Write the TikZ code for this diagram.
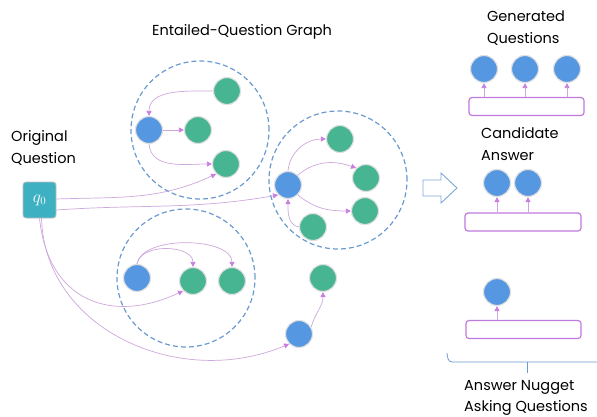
\documentclass[tikz,border=0pt]{standalone}
\usepackage{fontspec}
\setmainfont{Poppins}
\usetikzlibrary{arrows.meta}
\definecolor{qblue}{HTML}{5597E0}
\definecolor{qgreen}{HTML}{47B592}
\definecolor{edgec}{HTML}{CCA8DC}
\definecolor{tipc}{HTML}{C97EE0}
\definecolor{dashc}{HTML}{6A9AD0}
\definecolor{rectc}{HTML}{C07ADD}
\definecolor{qzero}{HTML}{3DB0C2}
\definecolor{arrc}{HTML}{7FA8D8}
\tikzset{
 bnode/.style={circle,fill=qblue,draw=black!12,line width=1.2pt,minimum size=27pt,inner sep=0pt},
 gnode/.style={bnode,fill=qgreen},
 edge/.style={draw=edgec,line width=0.7pt,-{Triangle[length=5pt,width=5pt,color=tipc]}},
 cluster/.style={circle,draw=dashc,dash pattern=on 5pt off 3pt,line width=1.2pt,inner sep=0pt,minimum size=138pt},
 txt/.style={font=\fontsize{14.5}{21.5}\selectfont,align=left,inner sep=0pt},
 slot/.style={draw=rectc,rounded corners=3pt,line width=1.2pt,minimum width=115pt,minimum height=18pt,inner sep=0pt},
 qbox/.style={fill=qzero,draw=black!25,line width=0.8pt,rounded corners=3pt,minimum width=33pt,minimum height=36pt,inner sep=0pt,text=white,font=\fontsize{16}{16}\selectfont},
}
\begin{document}
\begin{tikzpicture}[x=1pt,y=1pt]
\useasboundingbox (0,0) rectangle (597,416);
% clusters
\node[cluster] (c1) at (200,286) {};
\node[cluster] (c2) at (338,236) {};
\node[cluster] (c3) at (186,138) {};
% cluster 1
\node[bnode] (b1) at (149,286) {};
\node[gnode] (mg1) at (198,286) {};
\node[gnode] (tg1) at (227,325) {};
\node[gnode] (bg1) at (226,252) {};
% cluster 2
\node[bnode] (b2) at (288,231) {};
\node[gnode] (tg2) at (340,277) {};
\node[gnode] (mg2) at (366,238) {};
\node[gnode] (lg2) at (365,205) {};
\node[gnode] (bt2) at (313,189) {};
% cluster 3
\node[bnode] (b3) at (137,138) {};
\node[gnode] (gm3) at (193,135) {};
\node[gnode] (gr3) at (232,135) {};
% outside
\node[gnode] (go) at (323,138) {};
\node[bnode] (bo) at (299,82) {};
% q0
\node[qbox] (q0) at (39.5,216) {$q_0$};
% texts
\node[txt,anchor=center] (title) at (242,384) {Entailed-Question Graph};
\node[txt,anchor=west] (orig) at (11,268) {Original\\Question};
\node[txt,anchor=west] (gen) at (487,388) {Generated\\Questions};
\node[txt,anchor=west] (cand) at (481,272) {Candidate\\Answer};
\node[txt,anchor=west] (nug) at (464,18) {Answer Nugget\\Asking Questions};
% edges cluster 1
\draw[edge] (tg1.west) to[out=180,in=90] (b1.north);
\draw[edge] (b1) -- (mg1);
\draw[edge] (b1.south) to[out=-85,in=180] (bg1.west);
% cluster 2
\draw[edge] (b2.north) to[out=85,in=180] (tg2.west);
\draw[edge] (b2.north east) to[out=40,in=160] (mg2.north west);
\draw[edge] (b2.south east) to[out=-40,in=180] (lg2.west);
\draw[edge] (bt2.west) to[out=170,in=-90] (b2.south);
% cluster 3
\draw[edge] (b3.north) to[out=80,in=90] (gm3.north);
\draw[edge] (b3.north) to[out=80,in=90,looseness=0.8] (gr3.north);
% outside
\draw[edge] (bo.30) to[out=75,in=-90] (go.south);
% q0 edges
\draw[edge] ([yshift=1pt]q0.east) to[out=2,in=205] (bg1.south west);
\draw[edge] ([yshift=-10pt]q0.east) to[out=4,in=190] (b2.south west);
\draw[edge] (q0.south) .. controls (48,116) and (110,91) .. (gm3.south west);
\draw[edge] ([xshift=2pt]q0.south) .. controls (45,86) and (180,26) .. (bo.south west);
% block arrow
\draw[draw=arrc,line width=0.9pt,fill=white] (423,220) -- (441,220) -- (441,213) -- (457,228) -- (441,243) -- (441,236) -- (423,236) -- cycle;
% right side: generated
\node[bnode] (g1) at (484,347) {};
\node[bnode] (g2) at (525,347) {};
\node[bnode] (g3) at (567,347) {};
\node[slot,minimum width=115pt] (r1) at (526.5,309.5) {};
\draw[edge] (r1.north -| g1) -- (g1.south);
\draw[edge] (r1.north -| g2) -- (g2.south);
\draw[edge] (r1.north -| g3) -- (g3.south);
% candidate
\node[bnode] (a1) at (497,233) {};
\node[bnode] (a2) at (528,233) {};
\node[slot,minimum width=116pt] (r2) at (523,194) {};
\draw[edge] (r2.north -| a1) -- (a1.south);
\draw[edge] (r2.north -| a2) -- (a2.south);
% nugget
\node[bnode] (n1) at (497,124) {};
\node[slot,minimum width=115pt] (r3) at (523.5,86.5) {};
\draw[edge] (r3.north -| n1) -- (n1.south);
% brace
\coordinate (bl) at (447,63);
\coordinate (bm) at (527,54);
\coordinate (br) at (597,54);
\coordinate (bt) at (527,43);
\draw[draw=dashc,line width=0.8pt] (bl) to[out=-85,in=180] (452,54) -- (br);
\draw[draw=dashc,line width=0.8pt] (bm) -- (bt);
\end{tikzpicture}
\end{document}
